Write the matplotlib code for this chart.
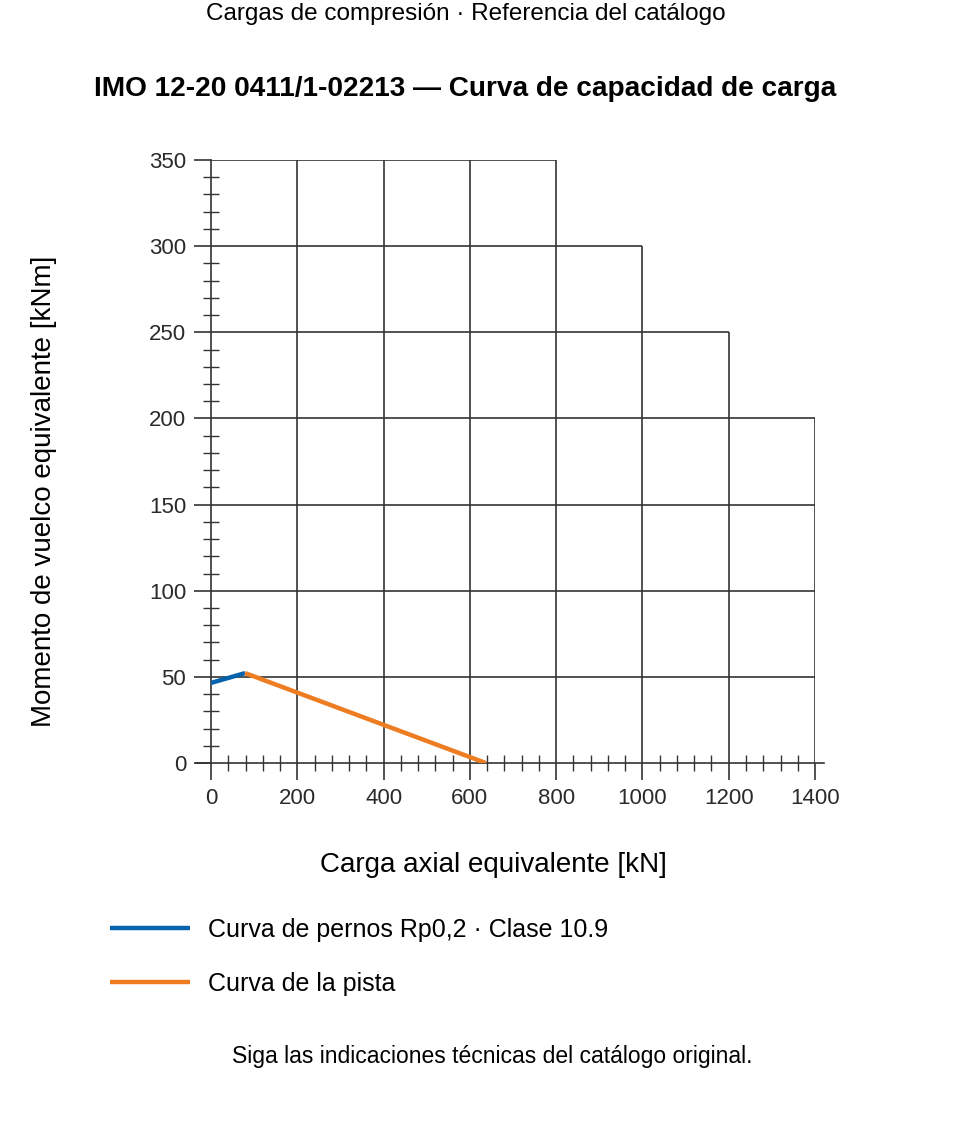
import matplotlib
matplotlib.use("Agg")
import matplotlib.pyplot as plt
from matplotlib.ticker import MultipleLocator

# bolt curve and raceway curve (axial kN, moment kNm)
bolt_x = [0, 79]
bolt_y = [46.5, 52.2]
race_x = [79, 637]
race_y = [52.2, 0]

# staircase grid: vertical lines and how high they go
grid_x = [200, 400, 600, 800, 1000, 1200, 1400]
grid_x_top = [350, 350, 350, 350, 300, 250, 200]
# horizontal lines and how far right they go
grid_y = [50, 100, 150, 200, 250, 300, 350]
grid_y_end = [1400, 1400, 1400, 1400, 1200, 1000, 800]

x_ticks = [0, 200, 400, 600, 800, 1000, 1200, 1400]
y_ticks = [0, 50, 100, 150, 200, 250, 300, 350]

BLUE = "#0563ad"
ORANGE = "#ee7d22"
GRID = "#333333"

plt.rcParams["font.family"] = ["Liberation Sans", "DejaVu Sans"]

fig = plt.figure(figsize=(9.6, 11.38), dpi=100)
ax = fig.add_axes([0.2198, 0.3295, 0.6292, 0.5299])

for x, top in zip(grid_x, grid_x_top):
    ax.vlines(x, 0, top, color=GRID, lw=1.2, zorder=1)
for y, end in zip(grid_y, grid_y_end):
    ax.hlines(y, 0, end, color=GRID, lw=1.2, zorder=1)

ax.plot(bolt_x, bolt_y, color=BLUE, lw=3.2, solid_capstyle="butt", zorder=3,
        label="Curva de pernos Rp0,2 · Clase 10.9")
ax.plot(race_x, race_y, color=ORANGE, lw=3.2, solid_capstyle="butt", zorder=3,
        label="Curva de la pista")

ax.set_xlim(0, 1400)
ax.set_ylim(0, 350)
for s in ["top", "right"]:
    ax.spines[s].set_visible(False)
for s in ["left", "bottom"]:
    ax.spines[s].set_color(GRID)
    ax.spines[s].set_linewidth(1.2)
ax.spines["bottom"].set_bounds(-35, 1420)

ax.set_xticks(x_ticks)
ax.set_yticks(y_ticks)
ax.xaxis.set_minor_locator(MultipleLocator(40))
ax.yaxis.set_minor_locator(MultipleLocator(10))
ax.tick_params(which="major", direction="out", length=12, width=1.2, color=GRID,
               pad=6, labelsize=16, labelcolor="#2a2a2a")
ax.tick_params(which="minor", direction="inout", length=12, width=1.0, color=GRID)

ax.set_xlabel("Carga axial equivalente [kN]", fontsize=20)
ax.set_ylabel("Momento de vuelco equivalente [kNm]", fontsize=20)
ax.xaxis.set_label_coords(0.468, -0.147)
ax.yaxis.set_label_coords(-0.255, 0.45)

fig.text(0.485, 0.988, "Cargas de compresión · Referencia del catálogo",
         ha="center", va="center", fontsize=17.5)
fig.text(0.484, 0.922, "IMO 12-20 0411/1-02213 — Curva de capacidad de carga",
         ha="center", va="center", fontsize=20.2, fontweight="bold")

fig.legend(loc="center left", bbox_to_anchor=(0.1145, 0.159), frameon=False,
           fontsize=18, handlelength=3.2, handletextpad=0.72, labelspacing=1.2,
           borderaxespad=0, borderpad=0)

fig.text(0.513, 0.072, "Siga las indicaciones técnicas del catálogo original.",
         ha="center", va="center", fontsize=16.5)

fig.savefig("out.png", dpi=100)
